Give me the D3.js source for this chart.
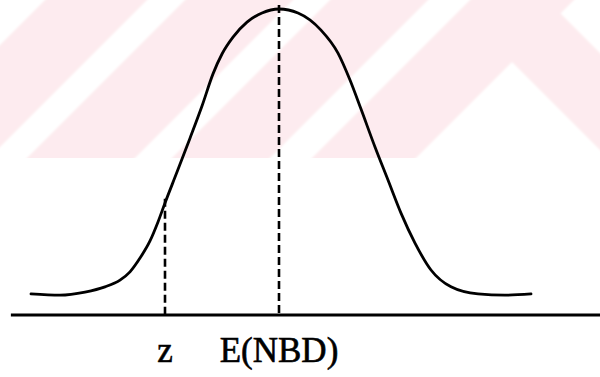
<!DOCTYPE html>
<html>
<head>
<meta charset="utf-8">
<script src="https://cdn.jsdelivr.net/npm/d3@7"></script>
<style>
  html, body { margin: 0; padding: 0; background: #fff; }
  svg { display: block; }
</style>
</head>
<body>
<svg id="chart" width="600" height="377"></svg>
<script>
// Distribution curve, in standard units (x) and relative density (y, peak = 1)
const curveX = [-3.968, -3.504, -3.104, -2.784, -2.544, -2.384, -2.224, -2.064, -1.936, -1.824,
                -1.632, -1.424, -1.232, -1.056, -0.912, -0.736, -0.512, -0.272, 0,
                0.304, 0.672, 0.944, 1.136, 1.312, 1.536, 1.744, 1.952, 2.176, 2.432,
                2.752, 3.184, 3.616, 4.032];
const curveY = [0.069, 0.065, 0.075, 0.092, 0.114, 0.141, 0.186, 0.242, 0.304, 0.366,
                0.467, 0.578, 0.683, 0.788, 0.853, 0.908, 0.957, 0.987, 1.000,
                0.987, 0.931, 0.856, 0.768, 0.673, 0.549, 0.441, 0.333, 0.235, 0.147,
                0.092, 0.069, 0.065, 0.069];

// Marked positions on the horizontal axis and their labels
const markX = [-1.824, 0];
const markTop = [0.38, 1.013];
const markLabels = ["z", "E(NBD)"];

// Extent of the horizontal baseline
const baseExtent = [-4.29, 5.2];

const svg = d3.select("#chart");
const W = 600;

// Background emblem: pale diagonal bands in the upper part of the page
const bandColor = "rgb(253,235,239)";
const bandHeight = 158;
const defs = svg.append("defs");
defs.append("clipPath").attr("id", "bandClip")
  .append("rect").attr("x", 0).attr("y", 0).attr("width", W).attr("height", bandHeight);
defs.append("filter").attr("id", "soft")
  .append("feGaussianBlur").attr("stdDeviation", 0.8);

const bg = svg.append("g").attr("clip-path", "url(#bandClip)");
const bgInner = bg.append("g").attr("filter", "url(#soft)");
bgInner.append("rect").attr("x", -10).attr("y", -10).attr("width", W + 20).attr("height", bandHeight + 20)
  .attr("fill", bandColor);
const H2 = bandHeight + 20;
const poly = pts => pts.map(p => p.join(",")).join(" ");
// white gaps between the rising stripes, given as x+y offsets
const gaps = [[-40, 45], [147, 185], [293, 330], [428, 470]];
gaps.forEach(([a, b]) => {
  bgInner.append("polygon")
    .attr("points", poly([[a + 10, -10], [b + 10, -10], [b - H2, H2], [a - H2, H2]]))
    .attr("fill", "#fff");
});
// chevron opening and upper-right corner
bgInner.append("polygon")
  .attr("points", poly([[512, 62], [574 - H2, H2], [450 + H2, H2]]))
  .attr("fill", "#fff");
bgInner.append("polygon")
  .attr("points", poly([[560.5, 13.5], [584, -10], [660, -10], [660, 113]]))
  .attr("fill", "#fff");

// Scales
const x = d3.scaleLinear().domain([-4, 4]).range([29, 529]);
const y = d3.scaleLinear().domain([0, 1]).range([315, 9]);

// Baseline
svg.append("line")
  .attr("x1", x(baseExtent[0])).attr("x2", x(baseExtent[1]))
  .attr("y1", y(0)).attr("y2", y(0))
  .attr("stroke", "#000").attr("stroke-width", 2.8);

// Dashed verticals at z and at the mean
svg.selectAll("line.mark").data(markX).join("line")
  .attr("class", "mark")
  .attr("x1", d => x(d)).attr("x2", d => x(d))
  .attr("y1", (d, i) => y(markTop[i])).attr("y2", y(0))
  .attr("stroke", "#000").attr("stroke-width", 2.6)
  .attr("stroke-dasharray", "8,4");

// Curve
const pts = curveX.map((v, i) => [v, curveY[i]]);
svg.append("path")
  .datum(pts)
  .attr("d", d3.line().x(d => x(d[0])).y(d => y(d[1])).curve(d3.curveMonotoneX))
  .attr("fill", "none").attr("stroke", "#000").attr("stroke-width", 2.8)
  .attr("stroke-linecap", "round");

// Labels under the axis
svg.selectAll("text.lab").data(markLabels).join("text")
  .attr("class", "lab")
  .attr("x", (d, i) => x(markX[i]))
  .attr("y", 362)
  .attr("text-anchor", "middle")
  .attr("font-family", "'Liberation Serif', 'Times New Roman', serif")
  .attr("font-size", 35)
  .attr("fill", "#000")
  .attr("stroke", "#000")
  .attr("stroke-width", 0.6)
  .text(d => d);
</script>
</body>
</html>
